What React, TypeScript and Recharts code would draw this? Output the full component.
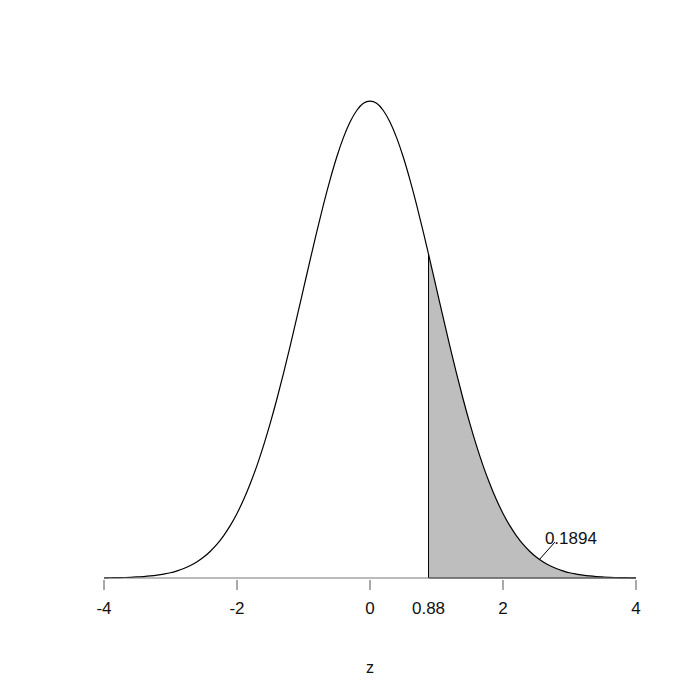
import React from "react"
import {
    ComposedChart,
    Line,
    Area,
    XAxis,
    YAxis,
    ReferenceLine,
    ReferenceDot,
} from "recharts"

// z grid and standard normal density
const zValues = [
    -4, -3.9, -3.8, -3.7, -3.6, -3.5, -3.4, -3.3, -3.2, -3.1,
    -3, -2.9, -2.8, -2.7, -2.6, -2.5, -2.4, -2.3, -2.2, -2.1,
    -2, -1.9, -1.8, -1.7, -1.6, -1.5, -1.4, -1.3, -1.2, -1.1,
    -1, -0.9, -0.8, -0.7, -0.6, -0.5, -0.4, -0.3, -0.2, -0.1,
    0, 0.1, 0.2, 0.3, 0.4, 0.5, 0.6, 0.7, 0.8, 0.88, 0.9,
    1, 1.1, 1.2, 1.3, 1.4, 1.5, 1.6, 1.7, 1.8, 1.9,
    2, 2.1, 2.2, 2.3, 2.4, 2.5, 2.6, 2.7, 2.8, 2.9,
    3, 3.1, 3.2, 3.3, 3.4, 3.5, 3.6, 3.7, 3.8, 3.9, 4,
]
const density = [
    0.0001, 0.0002, 0.0003, 0.0004, 0.0006, 0.0009, 0.0012, 0.0017, 0.0024, 0.0033,
    0.0044, 0.006, 0.0079, 0.0104, 0.0136, 0.0175, 0.0224, 0.0283, 0.0355, 0.044,
    0.054, 0.0656, 0.079, 0.094, 0.1109, 0.1295, 0.1497, 0.1714, 0.1942, 0.2179,
    0.242, 0.2661, 0.2897, 0.3123, 0.3332, 0.3521, 0.3683, 0.3814, 0.391, 0.397,
    0.3989, 0.397, 0.391, 0.3814, 0.3683, 0.3521, 0.3332, 0.3123, 0.2897, 0.2709, 0.2661,
    0.242, 0.2179, 0.1942, 0.1714, 0.1497, 0.1295, 0.1109, 0.094, 0.079, 0.0656,
    0.054, 0.044, 0.0355, 0.0283, 0.0224, 0.0175, 0.0136, 0.0104, 0.0079, 0.006,
    0.0044, 0.0033, 0.0024, 0.0017, 0.0012, 0.0009, 0.0006, 0.0004, 0.0003, 0.0002, 0.0001,
]
const CUTOFF = 0.88
const CUTOFF_DENSITY = 0.2709
const TAIL_PROB = "0.1894"
const xTicks = [-4, -2, 0, CUTOFF, 2, 4]

const chartData = zValues.map((z, i) => ({
    z,
    dens: density[i],
    tail: z >= CUTOFF ? density[i] : null,
}))

const FONT = "'Liberation Sans', Arial, sans-serif"

// tick with a mark, except for the cutoff label which has none
// eslint-disable-next-line @typescript-eslint/no-explicit-any
function AxisTick({ x, y, payload }: any) {
    const isCut = payload.value === CUTOFF
    return (
        <g>
            {!isCut && <line x1={x} x2={x} y1={y - 8} y2={y + 2} stroke="#555" strokeWidth={1} />}
            <text x={x} y={y + 26} textAnchor="middle" fontSize={17} fontFamily={FONT} fill="#111">
                {String(payload.value)}
            </text>
        </g>
    )
}

export default function App() {
    return (
        <div style={{ position: "absolute", left: 0, top: 0, width: 699, height: 699, background: "#fff" }}>
            <ComposedChart
                width={699}
                height={699}
                data={chartData}
                margin={{ top: 80, right: 63, left: 104, bottom: 81 }}
            >
                <XAxis
                    dataKey="z"
                    type="number"
                    domain={[-4, 4]}
                    ticks={xTicks}
                    interval={0}
                    tickLine={false}
                    tickSize={8}
                    height={40}
                    stroke="#777"
                    tick={AxisTick}
                    label={{ value: "z", position: "bottom", offset: 44, fontSize: 16, fontFamily: FONT, fill: "#111" }}
                />
                <YAxis type="number" domain={[0, 0.4165]} hide />
                <Area
                    dataKey="tail"
                    type="monotone"
                    fill="#bebebe"
                    fillOpacity={1}
                    stroke="none"
                    isAnimationActive={false}
                    connectNulls={false}
                />
                <ReferenceLine segment={[{ x: CUTOFF, y: 0 }, { x: CUTOFF, y: CUTOFF_DENSITY }]} stroke="#000" strokeWidth={1} />
                <ReferenceLine segment={[{ x: CUTOFF, y: 0 }, { x: 4, y: 0 }]} stroke="#222" strokeWidth={1} />
                <Line
                    dataKey="dens"
                    type="monotone"
                    stroke="#000"
                    strokeWidth={1.2}
                    dot={false}
                    isAnimationActive={false}
                />
                <ReferenceLine segment={[{ x: 2.54, y: 0.015 }, { x: 2.78, y: 0.030 }]} stroke="#000" strokeWidth={1} />
                <ReferenceDot
                    x={2.63}
                    y={0.0334}
                    r={0}
                    stroke="none"
                    label={{ value: TAIL_PROB, position: "right", offset: 0, fontSize: 17, fontFamily: FONT, fill: "#111" }}
                />
            </ComposedChart>
        </div>
    )
}
